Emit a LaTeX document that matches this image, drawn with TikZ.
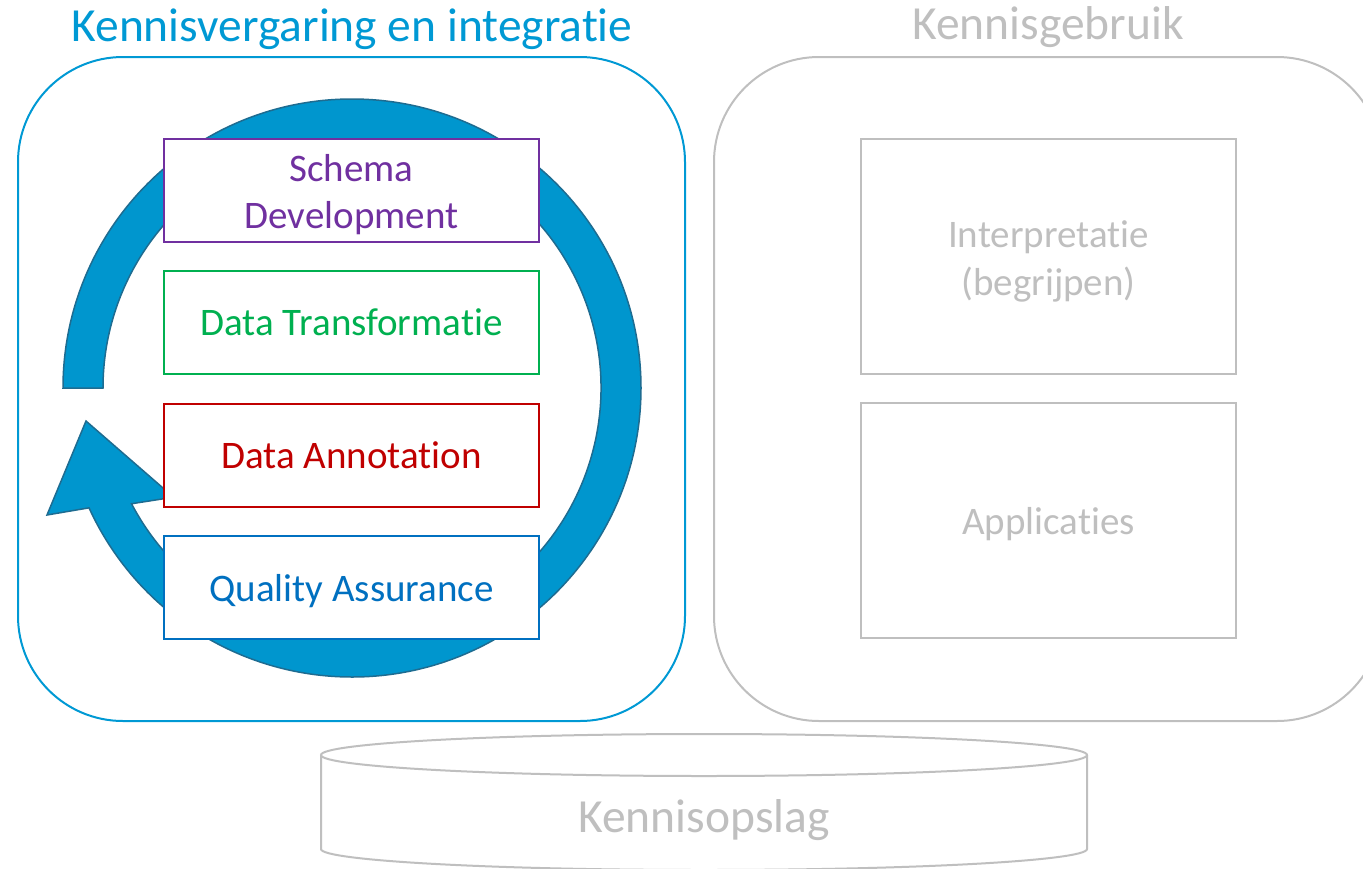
\documentclass[tikz,border=0pt]{standalone}
\usepackage{fontspec}
\setmainfont{Carlito}[Ligatures={NoCommon,NoRare,NoContextual}]
\usetikzlibrary{calc}
\newcommand\tiX{t\kern0pt i}
\definecolor{panelblue}{RGB}{0,153,212}
\definecolor{arrowfill}{RGB}{0,150,206}
\definecolor{arrowline}{RGB}{30,108,145}
\definecolor{lgray}{RGB}{191,191,191}
\definecolor{cpurple}{RGB}{112,48,160}
\definecolor{cgreen}{RGB}{0,176,80}
\definecolor{cred}{RGB}{192,0,0}
\definecolor{cblue}{RGB}{0,112,192}
\tikzset{
  panel/.style={line width=2pt, rounded corners=105pt},
  stepbox/.style={draw, fill=white, line width=2pt, minimum width=375pt, minimum height=103pt, inner sep=0pt},
  steptext/.style={align=center, inner sep=0pt, font=\fontsize{39}{47.5}\selectfont},
  title/.style={font=\fontsize{47.5}{56}\selectfont, inner sep=0pt},
}
\begin{document}
\begin{tikzpicture}[x=1pt,y=-1pt]
\useasboundingbox (0,0) rectangle (1363,868);
\clip (0,0) rectangle (1363,868);
% panels
\draw[panel, panelblue] (18,57) rectangle (685,721);
\draw[panel, lgray] (714,57) rectangle (1382,721);
\node[title, text=panelblue] (t1) at (352,29.5) {Kennisvergaring en integra\tiX e};
\node[title, text=lgray] (t2) at (1048,27.5) {Kennisgebruik};
% cycle arrow
\coordinate (c) at (352,388);
\filldraw[fill=arrowfill, draw=arrowline, line width=1.5pt, line join=miter]
  ($(c)+(180:289)$) arc[start angle=180, end angle=515.5, radius=289]
  -- (47,515) -- (86,421) -- (173.6,497.2)
  -- ($(c)+(512.3:249)$) arc[start angle=512.3, end angle=180, radius=249] -- cycle;
% step boxes
\node[stepbox, draw=cpurple] (s1) at (351.5,190.5) {};
\node[stepbox, draw=cgreen] (s2) at (351.5,322.5) {};
\node[stepbox, draw=cred] (s3) at (351.5,455) {};
\node[stepbox, draw=cblue] (s4) at (351.5,587) {};
\node[steptext, text=cpurple] (l1) at ($(s1.center)+(0,4)$) {Schema\\Development};
\node[steptext, text=cgreen] (l2) at (s2.center) {Data Transforma\tiX e};
\node[steptext, text=cred] (l3) at (s3.center) {Data Annota\tiX on};
\node[steptext, text=cblue] (l4) at ($(s4.center)+(0,4)$) {Quality Assurance};
% right boxes
\node[stepbox, draw=lgray, minimum height=235pt] (r1) at (1048.5,256.5) {};
\node[stepbox, draw=lgray, minimum height=235pt] (r2) at (1048.5,520.5) {};
\node[steptext, text=lgray] (l5) at ($(r1.center)+(0,5)$) {Interpreta\tiX e\\(begrijpen)};
\node[steptext, text=lgray] (l6) at ($(r2.center)+(0,4)$) {Applica\tiX es};
% cylinder
\filldraw[fill=white, draw=lgray, line width=2pt]
  (321,755) -- (321,849) arc[start angle=180, end angle=0, x radius=383, y radius=21] -- (1087,755);
\draw[lgray, line width=2pt] (704,755) ellipse[x radius=383, y radius=21];
\node[title, text=lgray] (db) at (704,820.5) {Kennisopslag};
\end{tikzpicture}
\end{document}
